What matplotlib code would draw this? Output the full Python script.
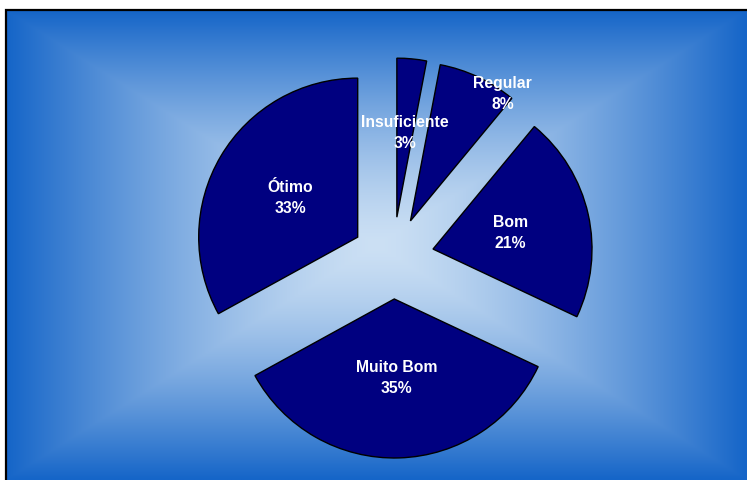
import numpy as np
import matplotlib
matplotlib.use("Agg")
from matplotlib import pyplot as plt
from matplotlib.patches import Rectangle

# chart data
categorias = ['Insuficiente', 'Regular', 'Bom', 'Muito Bom', 'Ótimo']
valores = [3, 8, 21, 35, 33]

W, H = 747, 481
fig = plt.figure(figsize=(W / 100, H / 100), dpi=100)
fig.patch.set_facecolor('white')
ax = fig.add_axes([0, 0, 1, 1])

# background frame with rectangular gradient (light centre -> blue edges)
fx0, fx1 = 6, 747
fy0, fy1 = 0, H - 11
cx, cy = (fx0 + fx1) / 2, (fy0 + fy1) / 2
xx, yy = np.meshgrid(np.linspace(fx0, fx1, 400), np.linspace(fy0, fy1, 300))
t = np.maximum(np.abs(xx - cx) / ((fx1 - fx0) / 2), np.abs(yy - cy) / ((fy1 - fy0) / 2))
t = t ** 1.4
c_centro = np.array([204, 224, 244]) / 255
c_borda = np.array([21, 101, 200]) / 255
img = c_centro[None, None, :] + t[..., None] * (c_borda - c_centro)[None, None, :]
ax.imshow(img, extent=(fx0, fx1, fy0, fy1), origin='lower', zorder=0, interpolation='bilinear')
# only top and left border are inside the picture
ax.add_patch(Rectangle((fx0, fy0 - 10), fx1 - fx0 + 10, fy1 - fy0 + 10, fill=False,
                       edgecolor='black', linewidth=1.6, zorder=1, clip_on=False))

# exploded pie
raio = 159
wedges, _ = ax.pie(valores, startangle=90, counterclock=False, radius=raio,
                   center=(393, H - 259), explode=[41] * len(valores),
                   colors=['#000080'] * len(valores),
                   wedgeprops=dict(edgecolor='black', linewidth=1.0))
for w in wedges:
    w.set_zorder(2)

# label placement: distance (fraction of radius) and angle fraction inside the wedge
dist_rotulo = [0.54, 0.99, 0.5, 0.49, 0.49]
frac_ang = [0.5, 0.13, 0.5, 0.5, 0.5]
total = sum(valores)
for w, nome, v, d, f in zip(wedges, categorias, valores, dist_rotulo, frac_ang):
    ang = np.deg2rad(w.theta1 + f * (w.theta2 - w.theta1))
    x = w.center[0] + d * raio * np.cos(ang)
    y = w.center[1] + d * raio * np.sin(ang)
    ax.text(x, y, f"{nome}\n{round(v / total * 100)}%", ha='center', va='center',
            color='white', fontsize=11.3, fontweight='bold', family='Liberation Sans',
            linespacing=1.5, zorder=3)

ax.set_xlim(0, W)
ax.set_ylim(0, H)
ax.set_aspect('auto')
ax.axis('off')

fig.savefig('out.png', dpi=100)
